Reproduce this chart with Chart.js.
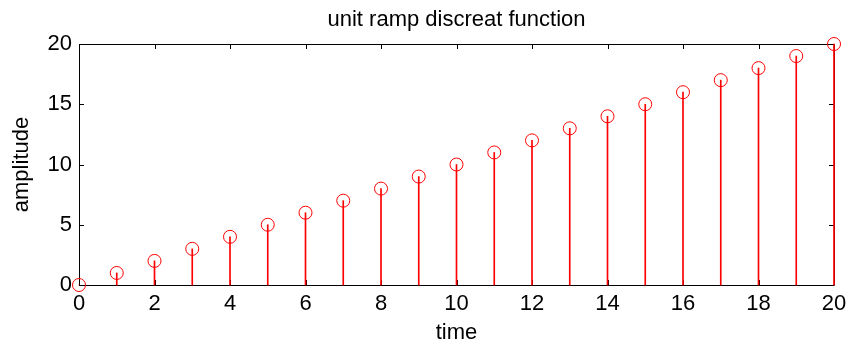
<!DOCTYPE html>
<html>
<head>
<meta charset="utf-8">
<script src="https://cdn.jsdelivr.net/npm/chart.js@4.4.1/dist/chart.umd.min.js"></script>
<style>
  html, body { margin: 0; padding: 0; background: #fff; }
  #wrap { width: 849px; height: 349px; }
</style>
</head>
<body>
<div id="wrap"><canvas id="myChart"></canvas></div>
<script>
// sample index n and ramp value r[n]
const timeSteps = [0,1,2,3,4,5,6,7,8,9,10,11,12,13,14,15,16,17,18,19,20];
const rampValues = [0,1,2,3,4,5,6,7,8,9,10,11,12,13,14,15,16,17,18,19,20];
const xTicks = [0,2,4,6,8,10,12,14,16,18,20];
const yTicks = [0,5,10,15,20];

const points = timeSteps.map((t, i) => ({x: t, y: rampValues[i]}));

// matlab style box with inward ticks on every side
const boxPlugin = {
    id: 'box',
    afterLayout(chart) {
        // center the title over the axes, not the canvas
        const t = chart.titleBlock;
        t.left = chart.chartArea.left;
        t.right = chart.chartArea.right;
        t.width = t.right - t.left;
    },
    beforeDatasetsDraw(chart) {
        const {ctx, chartArea: a, scales: {x, y}} = chart;
        ctx.save();
        ctx.strokeStyle = '#000';
        ctx.lineWidth = 1;
        ctx.beginPath();
        ctx.rect(a.left + 0.5, a.top + 0.5, a.right - a.left, a.bottom - a.top);
        xTicks.forEach(v => {
            const px = Math.round(x.getPixelForValue(v)) + 0.5;
            ctx.moveTo(px, a.bottom); ctx.lineTo(px, a.bottom - 5);
            ctx.moveTo(px, a.top); ctx.lineTo(px, a.top + 5);
        });
        yTicks.forEach(v => {
            const py = Math.round(y.getPixelForValue(v)) + 0.5;
            ctx.moveTo(a.left, py); ctx.lineTo(a.left + 5, py);
            ctx.moveTo(a.right, py); ctx.lineTo(a.right - 5, py);
        });
        ctx.stroke();
        ctx.restore();
    }
};

const font = {family: 'Arial, "Liberation Sans", sans-serif', size: 22};

new Chart(document.getElementById('myChart').getContext('2d'), {
    type: 'bar',
    data: {
        datasets: [{
            label: 'stem',
            data: points,
            backgroundColor: '#ff0000',
            borderWidth: 0,
            barThickness: 1,
            clip: false,
            order: 2
        }, {
            type: 'scatter',
            label: 'marker',
            data: points,
            pointStyle: 'circle',
            pointRadius: 6.5,
            pointBorderWidth: 1,
            pointBorderColor: '#ff0000',
            pointBackgroundColor: 'rgba(0,0,0,0)',
            clip: false,
            order: 1
        }]
    },
    options: {
        responsive: true,
        maintainAspectRatio: false,
        animation: false,
        layout: {padding: {left: 0, right: 15, top: 0, bottom: 0}},
        plugins: {
            legend: {display: false},
            tooltip: {enabled: false},
            title: {
                display: true,
                text: 'unit ramp discreat function',
                color: '#000',
                font: {family: font.family, size: 22, weight: 'normal'},
                padding: {top: 6.8, bottom: 10.8}
            }
        },
        scales: {
            x: {
                type: 'linear',
                min: 0, max: 20,
                offset: false,
                afterBuildTicks: s => { s.ticks = xTicks.map(v => ({value: v})); },
                afterFit: s => { s.height = 64; s.paddingLeft = 0; s.paddingRight = 0; },
                grid: {display: false, drawTicks: false},
                border: {display: false},
                ticks: {color: '#000', font: font, padding: 6, maxRotation: 0},
                title: {display: true, text: 'time', color: '#000', font: font, padding: {top: 0, bottom: 2.8}}
            },
            y: {
                min: 0, max: 20,
                afterBuildTicks: s => { s.ticks = yTicks.map(v => ({value: v})); },
                afterFit: s => { s.width = 79; s.paddingTop = 0; s.paddingBottom = 0; },
                grid: {display: false, drawTicks: false},
                border: {display: false},
                ticks: {color: '#000', font: font, padding: 7},
                title: {display: true, text: 'amplitude', color: '#000', font: font, padding: {top: 8.8, bottom: 0}}
            }
        }
    },
    plugins: [boxPlugin]
});
</script>
</body>
</html>
